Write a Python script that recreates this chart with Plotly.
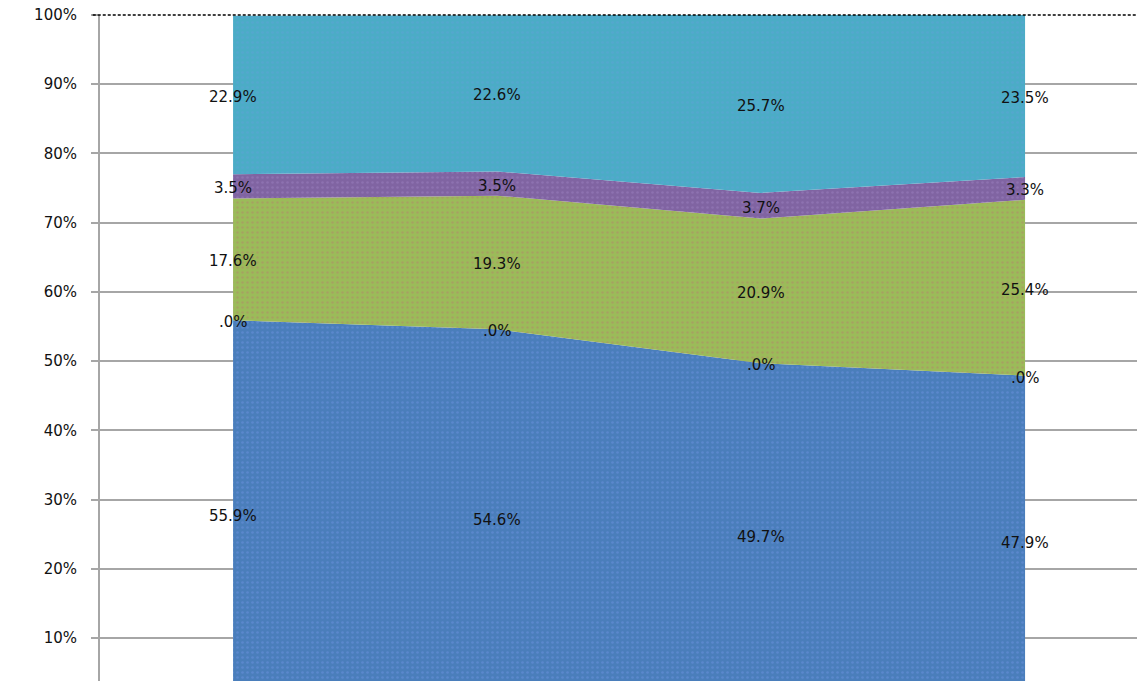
import plotly.graph_objects as go

categories = ["A", "B", "C", "D"]
series_names = ["Series 1", "Series 2", "Series 3", "Series 4", "Series 5"]
s1 = [55.9, 54.6, 49.7, 47.9]
s2 = [0.0, 0.0, 0.0, 0.0]
s3 = [17.6, 19.3, 20.9, 25.4]
s4 = [3.5, 3.5, 3.7, 3.3]
s5 = [22.9, 22.6, 25.7, 23.5]
colors = ["#4A7EBB", "#4A7EBB", "#9BBB59", "#8064A2", "#4BACC6"]
pattern_fg = ["#6C8FE0", "#6C8FE0", "#B08A6A", "#9A7DC0", "#5F9FD8"]
ytick_vals = [10, 20, 30, 40, 50, 60, 70, 80, 90, 100]
ytick_text = ["10%", "20%", "30%", "40%", "50%", "60%", "70%", "80%", "90%", "100%"]

all_series = [s1, s2, s3, s4, s5]
xs = list(range(len(categories)))

fig = go.Figure()
for name, vals, col, fg in zip(series_names, all_series, colors, pattern_fg):
    fig.add_trace(go.Scatter(
        x=xs, y=[v / 100 for v in vals], name=name, mode="lines",
        stackgroup="one", line=dict(width=0, color=col), fillcolor=col,
        fillpattern=dict(shape=".", size=5, solidity=0.2, fgcolor=fg, bgcolor=col),
        hoverinfo="skip", showlegend=False,
    ))

def fmt(v):
    s = f"{v:.1f}%"
    if s.startswith("0."):
        s = s[1:]
    return s

lx, ly, lt = [], [], []
base = [0.0] * len(categories)
for vals in all_series:
    for i, v in enumerate(vals):
        lx.append(xs[i])
        ly.append((base[i] + v / 2) / 100)
        lt.append(fmt(v))
    base = [b + v for b, v in zip(base, vals)]

for x, y, t in zip(lx, ly, lt):
    fig.add_annotation(x=x, y=y, text=t, showarrow=False, xanchor="center",
                       yanchor="middle", yshift=-2,
                       font=dict(family="DejaVu Sans", size=15, color="#111111"))

fig.add_shape(type="line", xref="paper", yref="paper", x0=-0.007, x1=1, y0=1.0, y1=1.0,
              line=dict(color="#000000", width=1.6, dash="3px,2px"), layer="above")

fig.update_layout(
    width=1137, height=681,
    margin=dict(l=100, r=0, t=15, b=0),
    paper_bgcolor="white", plot_bgcolor="white",
    xaxis=dict(range=[-0.504, 3.424], showgrid=False, zeroline=False,
               showticklabels=False, showline=False, ticks=""),
    yaxis=dict(range=[0.0379, 1.0], tickvals=[v / 100 for v in ytick_vals],
               ticktext=ytick_text, showgrid=True, gridcolor="#a6a6a6", gridwidth=1.5,
               zeroline=False, showline=True, linecolor="#a6a6a6", linewidth=2,
               ticks="outside", ticklen=7, tickcolor="#a6a6a6", tickwidth=1.5,
               ticklabelstandoff=11,
               tickfont=dict(family="DejaVu Sans", size=15, color="#111111")),
)

fig.write_html("out.html", config={"displayModeBar": False},
               post_script="document.body.style.margin='0';document.body.style.overflow='hidden';")
